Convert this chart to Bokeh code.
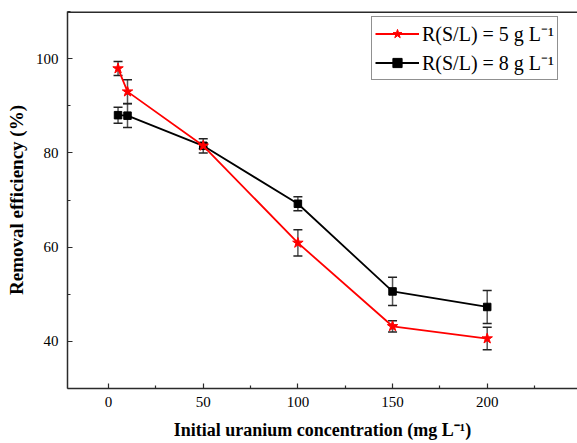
from bokeh.plotting import figure
from bokeh.models import (Range1d, FixedTicker, Whisker, TeeHead, Span, BoxAnnotation,
                          ColumnDataSource, Legend, LegendItem)
from bokeh.embed import file_html
from bokeh.resources import INLINE

# data
conc = [5, 10, 50, 100, 150, 200]
eff_5 = [97.9, 93.0, 81.5, 60.9, 43.2, 40.6]
err_5 = [1.5, 2.5, 0.6, 2.8, 1.2, 2.4]
eff_8 = [88.0, 87.9, 81.5, 69.2, 50.6, 47.3]
err_8 = [1.7, 2.5, 1.5, 1.5, 3.0, 3.5]
x_ticks = [0, 50, 100, 150, 200]
y_ticks = [40, 60, 80, 100]
label_5 = "R(S/L) = 5 g L\u207b\u00b9"
label_8 = "R(S/L) = 8 g L\u207b\u00b9"

FONT = "Liberation Serif"
AXC = "#2b2b2b"

p = figure(width=577, height=443, output_backend="svg", toolbar_location=None,
           x_range=Range1d(-21.7, 247.7), y_range=Range1d(30, 110),
           min_border_left=67, min_border_right=0, min_border_top=11,
           min_border_bottom=55)
p.outline_line_color = None
p.grid.visible = False
p.background_fill_color = "white"
p.border_fill_color = "white"

for ax in (p.xaxis[0], p.yaxis[0]):
    ax.axis_line_color = AXC
    ax.axis_line_width = 1.5
    ax.major_tick_in = 5
    ax.major_tick_out = 0
    ax.minor_tick_in = 3
    ax.minor_tick_out = 0
    ax.major_tick_line_color = AXC
    ax.minor_tick_line_color = AXC
    ax.major_tick_line_width = 1.2
    ax.minor_tick_line_width = 1.2
    ax.major_label_text_font = FONT
    ax.major_label_text_font_size = "15px"
    ax.major_label_text_color = "black"
    ax.axis_label_text_font = FONT
    ax.axis_label_text_font_style = "bold"
    ax.axis_label_text_color = "black"

p.xaxis[0].axis_label_text_font_size = "18px"
p.yaxis[0].axis_label_text_font_size = "19px"
p.xaxis[0].ticker = FixedTicker(ticks=x_ticks, minor_ticks=[25, 75, 125, 175, 225])
p.yaxis[0].ticker = FixedTicker(ticks=y_ticks, minor_ticks=[30, 50, 70, 90, 110])
p.xaxis[0].axis_label = "Initial uranium concentration (mg L\u207b\u00b9)"
p.yaxis[0].axis_label = "Removal efficiency (%)"
p.xaxis[0].major_label_standoff = 8
p.xaxis[0].axis_label_standoff = 10
p.yaxis[0].major_label_standoff = 9
p.yaxis[0].axis_label_standoff = 6

# top frame line, and cover for the right frame edge (reference is cut there)
p.add_layout(Span(location=110, dimension="width", line_color=AXC, line_width=3))
p.add_layout(BoxAnnotation(left=572, right=590, left_units="screen", right_units="screen",
                           fill_color="white", fill_alpha=1, line_color=None,
                           level="overlay"))

# error bars
def add_err(y, e):
    src = ColumnDataSource(dict(x=conc, lo=[a - b for a, b in zip(y, e)],
                                hi=[a + b for a, b in zip(y, e)]))
    w = Whisker(base="x", lower="lo", upper="hi", source=src,
                line_color="#555555", line_width=1.5,
                upper_head=TeeHead(size=9, line_color="#222222", line_width=1.5),
                lower_head=TeeHead(size=9, line_color="#222222", line_width=1.5))
    p.add_layout(w)

add_err(eff_8, err_8)
add_err(eff_5, err_5)

l8 = p.line(conc, eff_8, line_color="black", line_width=1.8)
s8 = p.scatter(conc, eff_8, marker="square", size=7.5, fill_color="black", line_color="black")
l5 = p.line(conc, eff_5, line_color="red", line_width=1.8)
s5 = p.scatter(conc, eff_5, marker="star", size=11, fill_color="red", line_color="red")

legend = Legend(items=[LegendItem(label=label_5, renderers=[l5, s5]),
                       LegendItem(label=label_8, renderers=[l8, s8])],
                location=(304, 308))
legend.label_text_font = FONT
legend.label_text_font_size = "20px"
legend.label_text_color = "black"
legend.border_line_color = "#222222"
legend.border_line_width = 1
legend.glyph_width = 44
legend.label_standoff = 3
legend.padding = 3
legend.spacing = 2
legend.margin = 0
legend.label_height = 23
legend.glyph_height = 23
legend.background_fill_alpha = 1
p.add_layout(legend, "center")

open("out.html", "w").write(file_html(p, INLINE))
